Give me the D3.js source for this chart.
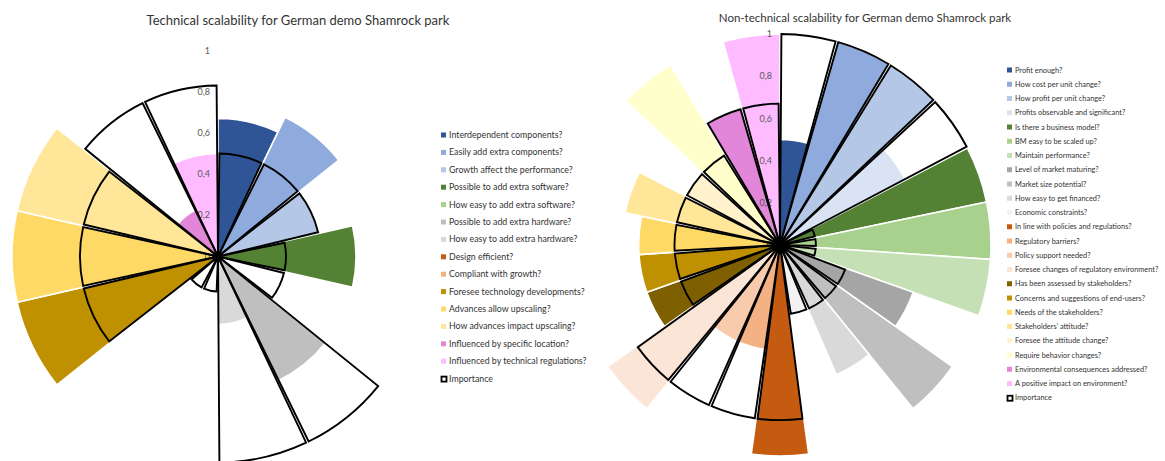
<!DOCTYPE html>
<html>
<head>
<meta charset="utf-8">
<script src="https://cdn.jsdelivr.net/npm/d3@7"></script>
<style>
  html, body { margin: 0; padding: 0; background: #ffffff; }
  svg { display: block; font-family: Lato, "Open Sans", sans-serif; }
</style>
</head>
<body>
<svg id="chart" width="1165" height="461"></svg>
<script>
// Radial axis ticks shared by both roses
const tickValues = [0, 0.2, 0.4, 0.6, 0.8, 1];
const tickLabels = ["0", "0,2", "0,4", "0,6", "0,8", "1"];

// Technical scalability
const techCategories = [
  "Interdependent components?",
  "Easily add extra components?",
  "Growth affect the performance?",
  "Possible to add extra software?",
  "How easy to add extra software?",
  "Possible to add extra hardware?",
  "How easy to add extra hardware?",
  "Design efficient?",
  "Compliant with growth?",
  "Foresee technology developments?",
  "Advances allow upscaling?",
  "How advances impact upscaling?",
  "Influenced by specific location?",
  "Influenced by technical regulations?"
];
const techValues     = [0.67, 0.75, 0.5, 0.67, 0, 0.67, 0.33, 0, 0, 1, 1, 1, 0.25, 0.5];
const techImportance = [0.5, 0.5, 0.5, 0.33, 0.33, 1, 1, 0.17, 0.17, 0.67, 0.67, 0.67, 0.83, 0.83];
const techColors = [
  "#2F5597", "#8FAADC", "#B4C7E7", "#548235", "#A9D18E", "#BFBFBF", "#D9D9D9",
  "#C55A11", "#F4B183", "#BF9000", "#FFD966", "#FFE699", "#E286DA", "#FFBBFF"
];

// Non-technical scalability
const nonTechCategories = [
  "Profit enough?",
  "How cost per unit change?",
  "How profit per unit change?",
  "Profits observable and significant?",
  "Is there a business model?",
  "BM easy to be scaled up?",
  "Maintain performance?",
  "Level of market maturing?",
  "Market size potential?",
  "How easy to get financed?",
  "Economic constraints?",
  "In line with policies and regulations?",
  "Regulatory barriers?",
  "Policy support needed?",
  "Foresee changes of regulatory environment?",
  "Has been assessed by stakeholders?",
  "Concerns and suggestions of end-users?",
  "Needs of the stakeholders?",
  "Stakeholders\u2019 attitude?",
  "Foresee the attitude change?",
  "Require behavior changes?",
  "Environmental consequences addressed?",
  "A positive impact on environment?"
];
const nonTechValues     = [0.5, 1, 1, 0.67, 1, 1, 1, 0.67, 1, 0.67, 0.33, 1, 0.5, 0.5, 1,
                           0.67, 0.67, 0.67, 0.75, 0.5, 1, 0.67, 1];
const nonTechImportance = [1, 1, 1, 1, 0.17, 0.17, 0.17, 0.33, 0.33, 0.33, 0.33, 0.83, 0.83, 0.83, 0.83,
                           0.5, 0.5, 0.5, 0.5, 0.5, 0.5, 0.67, 0.67];
const nonTechColors = [
  "#2F5597", "#8FAADC", "#B4C7E7", "#DAE3F3", "#548235", "#A9D18E", "#C5E0B4",
  "#A5A5A5", "#BFBFBF", "#D9D9D9", "#F2F2F2", "#C55A11", "#F4B183", "#F8CBAD",
  "#FBE5D6", "#7F6000", "#BF9000", "#FFD966", "#FFE699", "#FFF2CC", "#FFFFCC",
  "#E286DA", "#FFBBFF"
];

const svg = d3.select("#chart");
const textColor = "#333333";

function drawRose(opts) {
  const { cx, cy, radius, categories, values, importance, colors } = opts;
  const g = svg.append("g").attr("transform", `translate(${cx},${cy})`);

  const r = d3.scaleLinear().domain([0, 1]).range([0, radius]);
  const angle = d3.scaleBand().domain(categories).range([0, 2 * Math.PI]).padding(0);

  const rows = categories.map((c, i) => ({
    category: c, value: values[i], importance: importance[i], color: colors[i]
  }));

  const valueArc = d3.arc()
    .innerRadius(0)
    .outerRadius(d => r(d.value))
    .startAngle(d => angle(d.category))
    .endAngle(d => angle(d.category) + angle.bandwidth());

  const importanceArc = d3.arc()
    .innerRadius(0)
    .outerRadius(d => r(d.importance))
    .startAngle(d => angle(d.category))
    .endAngle(d => angle(d.category) + angle.bandwidth())
    .padAngle(0.028)
    .padRadius(100);

  // coloured answer wedges
  g.append("g").selectAll("path")
    .data(rows.filter(d => d.value > 0))
    .join("path")
    .attr("d", valueArc)
    .attr("fill", d => d.color)
    .attr("stroke", "#ffffff")
    .attr("stroke-width", 1.6)
    .attr("stroke-linejoin", "miter");

  // radial axis labels along the vertical
  g.append("g").selectAll("text")
    .data(tickValues)
    .join("text")
    .attr("x", -8)
    .attr("y", d => -r(d))
    .attr("dy", "0.35em")
    .attr("text-anchor", "end")
    .attr("font-size", 9)
    .attr("fill", "#595959")
    .text((d, i) => tickLabels[i]);

  // importance outlines
  g.append("g").selectAll("path")
    .data(rows)
    .join("path")
    .attr("d", importanceArc)
    .attr("fill", "none")
    .attr("stroke", "#000000")
    .attr("stroke-width", 1.9)
    .attr("stroke-linejoin", "miter");

  // hub where all outline edges meet
  g.append("circle")
    .attr("r", opts.hubRadius)
    .attr("fill", "#000000");

  // title
  svg.append("text")
    .attr("x", opts.titleX)
    .attr("y", opts.titleY)
    .attr("text-anchor", "middle")
    .attr("dy", "0.35em")
    .attr("font-size", opts.titleSize)
    .attr("fill", textColor)
    .text(opts.title);

  // legend
  const legend = svg.append("g")
    .attr("transform", `translate(${opts.legendX},${opts.legendY})`);
  const items = legend.selectAll("g")
    .data(rows)
    .join("g")
    .attr("transform", (d, i) => `translate(0,${i * opts.legendStep})`);
  items.append("rect")
    .attr("x", 0).attr("y", -opts.markerSize / 2)
    .attr("width", opts.markerSize).attr("height", opts.markerSize)
    .attr("fill", d => d.color);
  items.append("text")
    .attr("x", opts.markerSize + 3)
    .attr("dy", "0.35em")
    .attr("font-size", opts.legendSize)
    .attr("fill", textColor)
    .text(d => d.category);

  const imp = legend.append("g")
    .attr("transform", `translate(0,${rows.length * opts.legendStep})`);
  imp.append("rect")
    .attr("x", 0.5).attr("y", -opts.markerSize / 2 + 0.5)
    .attr("width", opts.markerSize).attr("height", opts.markerSize)
    .attr("fill", "#ffffff").attr("stroke", "#000000").attr("stroke-width", 1.8);
  imp.append("text")
    .attr("x", opts.markerSize + 3)
    .attr("dy", "0.35em")
    .attr("font-size", opts.legendSize)
    .attr("fill", textColor)
    .text("Importance");
}

drawRose({
  cx: 218, cy: 256.5, radius: 206, hubRadius: 4,
  categories: techCategories, values: techValues, importance: techImportance, colors: techColors,
  title: "Technical scalability for German demo Shamrock park",
  titleX: 298, titleY: 20, titleSize: 13,
  legendX: 441, legendY: 135, legendStep: 17.4, markerSize: 5, legendSize: 8.8
});

drawRose({
  cx: 780, cy: 245, radius: 211, hubRadius: 6,
  categories: nonTechCategories, values: nonTechValues, importance: nonTechImportance, colors: nonTechColors,
  title: "Non-technical scalability for German demo Shamrock park",
  titleX: 865, titleY: 18, titleSize: 11.5,
  legendX: 1007, legendY: 70, legendStep: 14.25, markerSize: 5, legendSize: 7.4
});
</script>
</body>
</html>
